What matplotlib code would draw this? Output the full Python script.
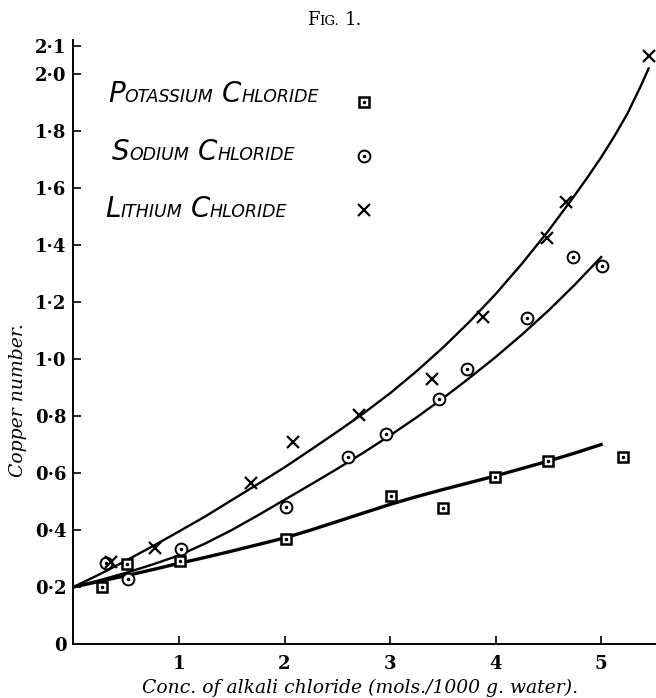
import numpy as np
import matplotlib
matplotlib.use("Agg")
import matplotlib.pyplot as plt
from matplotlib.lines import Line2D

# measured points (conc. in mols/1000 g water, copper number)
k_x = [0.27, 0.51, 1.01, 2.01, 3.01, 3.50, 3.99, 4.50, 5.21]
k_y = [0.200, 0.280, 0.290, 0.367, 0.520, 0.476, 0.587, 0.642, 0.657]
na_x = [0.31, 0.52, 1.02, 2.01, 2.60, 2.96, 3.46, 3.73, 4.30, 4.73, 5.01]
na_y = [0.283, 0.228, 0.333, 0.481, 0.658, 0.737, 0.860, 0.965, 1.144, 1.358, 1.327]
li_x = [0.36, 0.77, 1.68, 2.08, 2.71, 3.40, 3.88, 4.49, 4.67, 5.45]
li_y = [0.288, 0.337, 0.564, 0.709, 0.803, 0.930, 1.148, 1.425, 1.551, 2.063]

# smooth curves
curve_x = [0, 0.25, 0.5, 0.75, 1.0, 1.25, 1.5, 1.75, 2.0, 2.25, 2.5, 2.75,
           3.0, 3.25, 3.5, 3.75, 4.0, 4.25, 4.5, 4.75, 5.0]
k_curve = [0.200, 0.220, 0.240, 0.261, 0.283, 0.304, 0.326, 0.349, 0.372, 0.400, 0.430, 0.460,
           0.490, 0.517, 0.542, 0.566, 0.590, 0.616, 0.642, 0.670, 0.700]
na_curve = [0.200, 0.224, 0.250, 0.279, 0.311, 0.353, 0.400, 0.452, 0.506, 0.560, 0.615, 0.672,
            0.732, 0.795, 0.862, 0.933, 1.007, 1.086, 1.170, 1.261, 1.358]
li_curve_x = [0, 0.25, 0.5, 0.75, 1.0, 1.25, 1.5, 1.75, 2.0, 2.25, 2.5, 2.75,
              3.0, 3.25, 3.5, 3.75, 4.0, 4.25, 4.5, 4.75, 4.875, 5.0, 5.125, 5.25, 5.375, 5.45]
li_curve = [0.200, 0.245, 0.293, 0.343, 0.395, 0.448, 0.505, 0.562, 0.620, 0.682, 0.745, 0.810,
            0.880, 0.957, 1.040, 1.130, 1.228, 1.335, 1.450, 1.575, 1.640, 1.708, 1.782,
            1.862, 1.958, 2.020]

y_ticks = [0, 0.2, 0.4, 0.6, 0.8, 1.0, 1.2, 1.4, 1.6, 1.8, 2.0, 2.1]
x_ticks = [1, 2, 3, 4, 5]

serif = "DejaVu Serif"
hand = ["Liberation Sans Narrow", "DejaVu Sans"]

fig = plt.figure(figsize=(6.56, 6.98), dpi=100)
ax = fig.add_axes([0.112, 0.0774, 0.888, 0.8653])

# curves
ax.plot(li_curve_x, li_curve, color="k", lw=1.7)
ax.plot(curve_x, na_curve, color="k", lw=1.7)
ax.plot(curve_x, k_curve, color="k", lw=2.4)

# points
ax.plot(k_x, k_y, ls="none", marker="s", ms=7.5, mfc="white", mec="k", mew=1.8)
ax.plot(k_x, k_y, ls="none", marker=".", ms=3, color="k")
ax.plot(na_x, na_y, ls="none", marker="o", ms=8.5, mfc="white", mec="k", mew=1.4)
ax.plot(na_x, na_y, ls="none", marker=".", ms=3, color="k")
ax.plot(li_x, li_y, ls="none", marker="x", ms=9, color="k", mew=1.6)

ax.set_xlim(0, 5.52)
ax.set_ylim(0, 2.12)
for s in ["top", "right"]:
    ax.spines[s].set_visible(False)
ax.spines["left"].set_linewidth(1.4)
ax.spines["bottom"].set_linewidth(1.4)

ax.set_yticks(y_ticks)
ax.set_yticklabels(["0" if v == 0 else f"{v:.1f}".replace(".", "\u00b7") for v in y_ticks])
ax.set_xticks(x_ticks)
ax.set_xticklabels([str(v) for v in x_ticks])
ax.tick_params(direction="in", length=6, width=1.2, labelsize=13)
ax.tick_params(axis="y", pad=5)
ax.tick_params(axis="x", pad=8)
for lab in ax.get_xticklabels() + ax.get_yticklabels():
    lab.set_fontfamily(serif)
    lab.set_fontweight("bold")

ax.set_xlabel("Conc. of alkali chloride (mols./1000 g. water).", fontfamily=serif,
              style="italic", fontsize=13.5)
ax.xaxis.set_label_coords(0.492, -0.073)
ax.xaxis.label.set_va("center")
ax.set_ylabel("Copper number.", fontfamily=serif, style="italic", fontsize=13.5)
ax.yaxis.set_label_coords(-0.095, 0.404)
ax.yaxis.label.set_va("center")


def caps_text(x, y, parts, coords, **kw):
    # draw pieces one after the other on the same baseline
    prev = None
    for s, size, gap in parts:
        if prev is None:
            prev = ax.annotate(s, xy=(x, y), xycoords=coords, fontsize=size,
                               va="baseline", ha="left", annotation_clip=False, **kw)
        else:
            prev = ax.annotate(s, xy=(1, y), xycoords=(prev, coords), xytext=(gap, 0),
                               textcoords="offset points", fontsize=size,
                               va="baseline", ha="left", annotation_clip=False, **kw)


big, small = 20, 12.5
caps_text(0.059, 0.897, [("P", big, 0), ("OTASSIUM", small, 0), ("C", big, 6), ("HLORIDE", small, 0)],
          "axes fraction", family=hand, style="italic")
caps_text(0.066, 0.801, [("S", big, 0), ("ODIUM", small, 0), ("C", big, 6), ("HLORIDE", small, 0)],
          "axes fraction", family=hand, style="italic")
caps_text(0.054, 0.707, [("L", big, 0), ("ITHIUM", small, 0), ("C", big, 6), ("HLORIDE", small, 0)],
          "axes fraction", family=hand, style="italic")

caps_text(0.468, 0.964, [("F", 13, 0), ("IG.", 9.5, 0), ("1.", 13, 4)], "figure fraction",
          family=serif)

# legend keys
sq = Line2D([], [], ls="none", marker="s", ms=7.5, mfc="white", mec="k", mew=1.8)
ci = Line2D([], [], ls="none", marker="o", ms=8.5, mfc="white", mec="k", mew=1.4)
dot = Line2D([], [], ls="none", marker=".", ms=3, color="k")
xx = Line2D([], [], ls="none", marker="x", ms=9, color="k", mew=1.6)
ax.legend([(sq, dot), (ci, dot), xx], ["", "", ""], loc="center",
          bbox_to_anchor=(0.499, 0.806), frameon=False, borderpad=0,
          handletextpad=0, handlelength=1.0, labelspacing=1.79, fontsize=14)

fig.savefig("out.png", dpi=100)
